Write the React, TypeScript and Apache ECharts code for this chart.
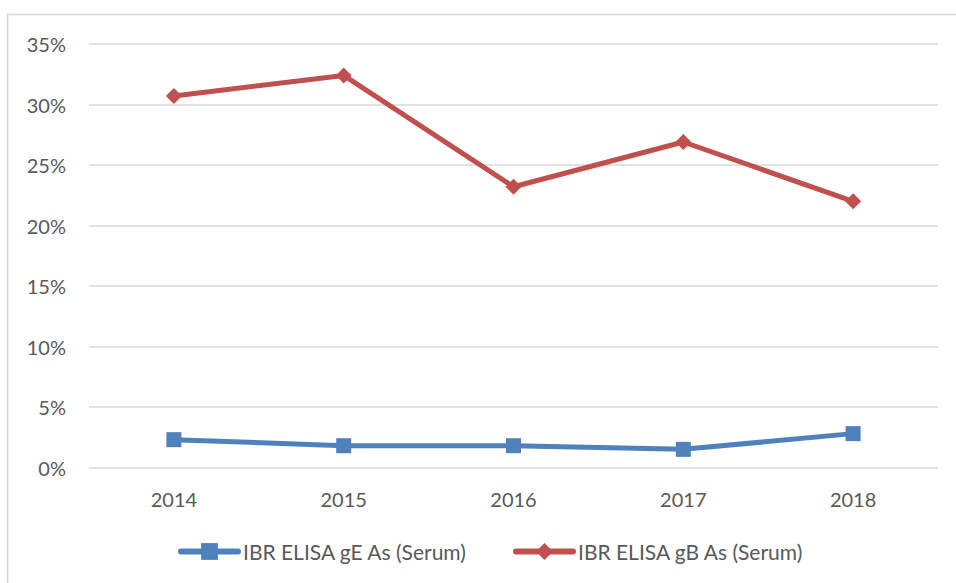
import React, { useEffect, useRef } from "react";
import * as echarts from "echarts";

const years = ["2014", "2015", "2016", "2017", "2018"];
const gE = [2.3, 1.8, 1.8, 1.5, 2.8];
const gB = [30.7, 32.4, 23.2, 26.9, 22.0];
const seriesNames = ["IBR ELISA gE As (Serum)", "IBR ELISA gB As (Serum)"];
const yTicks = [0, 5, 10, 15, 20, 25, 30, 35];

const FONT = "Lato";
const TEXT = "#595959";

export default function App() {
  const ref = useRef<HTMLDivElement>(null);
  useEffect(() => {
    const chart = echarts.init(ref.current!, null, { renderer: "svg" });
    const legendBase = {
      top: 536,
      padding: 5,
      itemWidth: 57,
      itemHeight: 21,
      itemGap: 40,
      lineStyle: { width: 6, cap: "round" },
      textStyle: { color: TEXT, fontSize: 21, fontFamily: FONT },
    };
    chart.setOption({
      animation: false,
      backgroundColor: "#ffffff",
      textStyle: { fontFamily: FONT },
      graphic: [
        {
          type: "rect",
          shape: { x: 7.5, y: 14.5, width: 1000, height: 1000 },
          style: { fill: "none", stroke: "#d9d9d9", lineWidth: 1.5 },
          silent: true,
          z: -10,
        },
      ],
      grid: { left: 89, right: 18, top: 44, bottom: 115.5 },
      xAxis: {
        type: "category",
        data: years,
        boundaryGap: true,
        axisLine: { show: false },
        axisTick: { show: false },
        axisLabel: { color: TEXT, fontSize: 20, fontFamily: FONT, margin: 21 },
      },
      yAxis: {
        type: "value",
        min: yTicks[0],
        max: yTicks[yTicks.length - 1],
        interval: 5,
        axisLine: { show: false },
        axisTick: { show: false },
        splitLine: { lineStyle: { color: "#d9d9d9", width: 1.5 } },
        axisLabel: {
          color: TEXT,
          fontSize: 20,
          fontFamily: FONT,
          margin: 23,
          formatter: (v: number) => v + "%",
        },
      },
      legend: [
        { ...legendBase, left: 173, data: [seriesNames[0]] },
        { ...legendBase, left: 508, data: [seriesNames[1]] },
      ],
      series: [
        {
          name: seriesNames[0],
          type: "line",
          data: gE,
          symbol: "rect",
          symbolSize: 15,
          itemStyle: { color: "#4f81bd" },
          lineStyle: { color: "#4f81bd", width: 5 },
        },
        {
          name: seriesNames[1],
          type: "line",
          data: gB,
          symbol: "diamond",
          symbolSize: 16,
          itemStyle: { color: "#c0504d" },
          lineStyle: { color: "#c0504d", width: 5 },
        },
      ],
    });
    return () => chart.dispose();
  }, []);
  return <div ref={ref} style={{ width: 956, height: 583, position: "absolute", left: 0, top: 0 }} />;
}
